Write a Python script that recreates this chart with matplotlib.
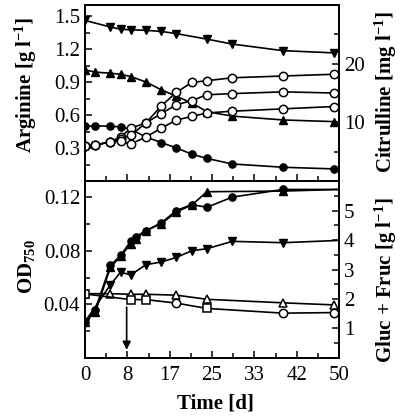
import matplotlib
matplotlib.use('Agg')
import matplotlib.pyplot as plt
from matplotlib.ticker import MultipleLocator, FixedLocator

plt.rcParams['font.family'] = ['Liberation Serif', 'DejaVu Serif']
plt.rcParams['mathtext.default'] = 'regular'

# top panel: arginine (g/l, filled) and citrulline (mg/l, open)
days = [0, 2, 5, 7, 9, 12, 15, 18, 21, 24, 29, 39, 49]
arg_circle = [0.50, 0.50, 0.50, 0.49, 0.47, 0.40, 0.35, 0.30, 0.245, 0.205, 0.155, 0.125, 0.11]
arg_up = [1.01, 0.99, 0.98, 0.97, 0.95, 0.90, 0.83, 0.77, 0.71, 0.63, 0.59, 0.555, 0.54]
down_days = [0, 5, 7, 9, 12, 15, 18, 24, 29, 39, 49]
arg_down = [1.46, 1.40, 1.38, 1.375, 1.37, 1.36, 1.34, 1.29, 1.245, 1.185, 1.165]
cit_a = [6.0, 6.1, 6.7, 7.5, 9.0, 9.9, 12.8, 15.1, 16.8, 17.1, 17.6, 17.9, 18.2]
cit_b = [6.0, 6.1, 6.7, 7.2, 7.8, 9.9, 11.5, 13.0, 13.7, 14.7, 14.9, 15.2, 15.0]
cit_c = [6.0, 6.1, 6.7, 6.8, 6.3, 7.5, 9.0, 10.4, 11.0, 11.6, 11.9, 12.3, 12.7]

# bottom panel: OD750 (filled) and gluc + fruc (g/l, open)
od_days = [0, 2, 5, 7, 9, 10, 12, 15, 18, 21, 24, 29, 39]
od_circle = [0.027, 0.036, 0.069, 0.0765, 0.087, 0.0905, 0.095, 0.1008, 0.110, 0.1144, 0.1124, 0.120, 0.1257]
od_up_days = [0, 2, 5, 7, 9, 10, 12, 15, 18, 21, 24, 39]
od_up = [0.027, 0.034, 0.0675, 0.076, 0.085, 0.089, 0.095, 0.100, 0.109, 0.114, 0.124, 0.1245]
od_down_days = [0, 5, 7, 9, 12, 15, 18, 21, 24, 29, 39]
od_down = [0.027, 0.0546, 0.064, 0.062, 0.0696, 0.0716, 0.075, 0.080, 0.0815, 0.087, 0.086]
od_end = [0.1257, 0.0877]  # value of the fitted curves at day 50

glc_tri_days = [0, 5, 9, 12, 18, 24, 39, 49]
glc_tri = [2.18, 2.18, 2.16, 2.16, 2.13, 1.99, 1.87, 1.80]
glc_sq_days = [0, 9, 12, 24]
glc_sq = [2.17, 1.98, 1.98, 1.68]
glc_ci_days = [18, 39, 49]
glc_ci = [1.86, 1.52, 1.54]

xticks = [0, 50 / 6, 100 / 6, 25, 200 / 6, 250 / 6, 50]
xlabels = ['0', '8', '17', '25', '33', '42', '50']

fig = plt.figure(figsize=(4, 4.19), dpi=100)
ax1 = fig.add_axes([0.2125, 0.568, 0.635, 0.420])
ax2 = fig.add_axes([0.2125, 0.1456, 0.635, 0.4224], sharex=ax1)
ax1b = ax1.twinx()
ax2b = ax2.twinx()

lw = 1.2
ms = 5.2
ax1.plot(days, arg_circle, 'k-o', lw=lw, ms=ms, zorder=3)
ax1.plot(days, arg_up, 'k-^', lw=lw, ms=ms + 0.6, zorder=3)
ax1.plot(down_days, arg_down, 'k-v', lw=lw, ms=ms + 0.6, zorder=3)
for c in (cit_a, cit_b, cit_c):
    ax1b.plot(days, c, 'k-o', lw=lw, ms=ms + 0.8, mfc='white', mew=1.1)

ax2.plot(od_days + [50], od_circle + [od_end[0]], 'k-', lw=lw)
ax2.plot(od_days, od_circle, 'ko', ms=ms)
ax2.plot(od_up_days + [50], od_up + [od_end[0]], 'k-', lw=lw)
ax2.plot(od_up_days, od_up, 'k^', ms=ms + 0.6)
ax2.plot(od_down_days + [50], od_down + [od_end[1]], 'k-', lw=lw)
ax2.plot(od_down_days, od_down, 'kv', ms=ms + 0.6)

ax2b.plot(glc_tri_days, glc_tri, 'k-^', lw=lw, ms=ms + 1, mfc='white', mew=1.1)
low = sorted(zip(glc_sq_days + glc_ci_days, glc_sq + glc_ci))
ax2b.plot([d for d, v in low], [v for d, v in low], 'k-', lw=lw)
ax2b.plot(glc_sq_days, glc_sq, 'ks', ms=ms, mfc='white', mew=1.1)
ax2b.plot(glc_ci_days, glc_ci, 'ko', ms=ms + 0.8, mfc='white', mew=1.1)

ax2.annotate('', xy=(8.2, 0.004), xytext=(8.2, 0.04),
             arrowprops=dict(arrowstyle='-|>', color='k', lw=1.2, mutation_scale=12))

ax1.set_xlim(0, 50)
ax1.set_ylim(0, 1.6)
ax1b.set_ylim(0, 30)
ax2.set_ylim(0, 0.132)
ax2b.set_ylim(0, 6)

ax2.set_xticks(xticks)
ax2.set_xticklabels(xlabels)
ax2.xaxis.set_minor_locator(FixedLocator([25 / 6 + i * 50 / 6 for i in range(6)]))
plt.setp(ax1.get_xticklabels(), visible=False)

ax1.set_yticks([0.3, 0.6, 0.9, 1.2, 1.5])
ax1.yaxis.set_minor_locator(FixedLocator([0.15, 0.45, 0.75, 1.05, 1.35]))
ax1b.set_yticks([10, 20])
ax1b.yaxis.set_minor_locator(FixedLocator([5, 15, 25]))
ax2.set_yticks([0.04, 0.08, 0.12])
ax2.set_yticklabels(['0.04', '0.08', '0.12'])
ax2.yaxis.set_minor_locator(FixedLocator([0.02, 0.06, 0.10]))
ax2b.set_yticks([1, 2, 3, 4, 5])
ax2b.yaxis.set_minor_locator(MultipleLocator(0.5))

for a in (ax1, ax2, ax1b, ax2b):
    for s in a.spines.values():
        s.set_linewidth(1.3)
    a.tick_params(which='both', direction='in', width=1.1, labelsize=15)
    a.tick_params(which='major', length=5)
    a.tick_params(which='minor', length=3.5)
ax2.tick_params(axis='x', pad=6)

lab = dict(fontsize=15, fontweight='bold')
ax1.set_ylabel('Arginine [g l$^{-1}$]', **lab)
ax1b.set_ylabel('Citrulline [mg l$^{-1}$]', rotation=90, **lab)
ax2.set_ylabel('OD$_{750}$', **lab)
ax2b.set_ylabel('Gluc + Fruc [g l$^{-1}$]', rotation=90, **lab)
ax2.set_xlabel('Time [d]', **lab)

ax1.yaxis.set_label_coords(-0.18, 0.545)
ax1b.yaxis.set_label_coords(1.135, 0.506)
ax2.yaxis.set_label_coords(-0.19, 0.514)
ax2b.yaxis.set_label_coords(1.135, 0.44)
ax2.xaxis.set_label_coords(0.512, -0.20)

fig.savefig('out.png', dpi=100)
